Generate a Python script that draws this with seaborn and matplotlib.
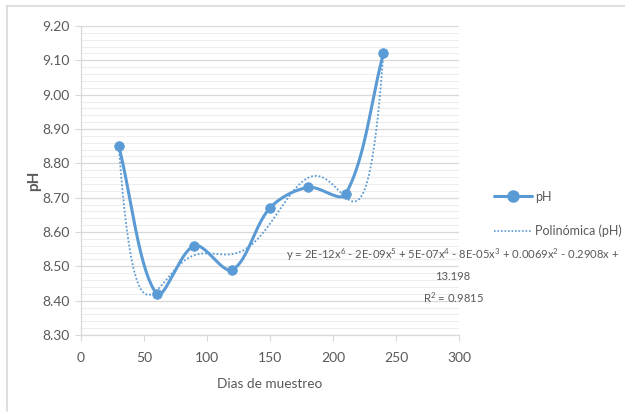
import numpy as np
import pandas as pd
import matplotlib
matplotlib.use("Agg")
import matplotlib.pyplot as plt
from matplotlib.lines import Line2D
import seaborn as sns

# Sampling days and measured pH
dias = [30, 60, 90, 120, 150, 180, 210, 240]
ph = [8.85, 8.42, 8.56, 8.49, 8.67, 8.73, 8.71, 9.12]

x_ticks = [0, 50, 100, 150, 200, 250, 300]
y_ticks = [8.30, 8.40, 8.50, 8.60, 8.70, 8.80, 8.90, 9.00, 9.10, 9.20]

eq_lines = [
    "y = 2E-12x$^6$ - 2E-09x$^5$ + 5E-07x$^4$ - 8E-05x$^3$ + 0.0069x$^2$ - 0.2908x +",
    "13.198",
    "R$^2$ = 0.9815",
]

BLUE = "#5B9BD5"
GRAY_TXT = "#595959"
FONT = "Lato"

sns.set_theme(style="white")
plt.rcParams["font.family"] = [FONT, "DejaVu Sans"]
plt.rcParams["mathtext.fontset"] = "custom"
plt.rcParams["mathtext.rm"] = FONT
plt.rcParams["mathtext.it"] = FONT

df = pd.DataFrame({"dias": dias, "ph": ph})

XMIN, XMAX, YMIN, YMAX = 0, 300, 8.30, 9.20
AX_RECT = [0.1296, 0.1928, 0.6048, 0.7445]
FIG_W, FIG_H = 625, 415


def smooth_curve(xs, ys, n=40):
    """Smoothed line through the points: cubic Bezier segments whose control
    points follow the neighbouring points, worked out in screen units."""
    sx = AX_RECT[2] * FIG_W / (XMAX - XMIN)
    sy = AX_RECT[3] * FIG_H / (YMAX - YMIN)
    P = np.column_stack([np.asarray(xs, float) * sx, np.asarray(ys, float) * sy])
    m = len(P)
    t = np.linspace(0, 1, n)[:, None]
    out = []
    for i in range(m - 1):
        p0 = P[i - 1] if i > 0 else P[i]
        p1, p2 = P[i], P[i + 1]
        p3 = P[i + 2] if i + 2 < m else P[i + 1]
        d01 = np.linalg.norm(p1 - p0)
        d12 = np.linalg.norm(p2 - p1)
        d23 = np.linalg.norm(p3 - p2)
        c1 = p1 + (p2 - p0) * (d12 / (d01 + d12)) / 3
        c2 = p2 - (p3 - p1) * (d12 / (d12 + d23)) / 3
        seg = ((1 - t) ** 3 * p1 + 3 * (1 - t) ** 2 * t * c1
               + 3 * (1 - t) * t ** 2 * c2 + t ** 3 * p2)
        out.append(seg if i == 0 else seg[1:])
    out = np.vstack(out)
    return out[:, 0] / sx, out[:, 1] / sy


fig = plt.figure(figsize=(6.25, 4.15), dpi=100)
ax = fig.add_axes(AX_RECT)

# minor and major gridlines
for v in np.arange(8.30, 9.2001, 0.02):
    ax.axhline(v, color="#EDEDED", lw=0.8, zorder=0)
for v in y_ticks:
    ax.axhline(v, color="#D9D9D9", lw=0.9, zorder=0)

cx, cy = smooth_curve(dias, ph)
ax.plot(cx, cy, color=BLUE, lw=2.2, zorder=3, solid_capstyle="round")
sns.scatterplot(data=df, x="dias", y="ph", ax=ax, color=BLUE, s=48,
                edgecolor=BLUE, zorder=4, legend=False)

# sixth-degree polynomial trendline
coef = np.polyfit(dias, ph, 6)
tx = np.linspace(dias[0], dias[-1], 400)
ax.plot(tx, np.polyval(coef, tx), color=BLUE, lw=1.3, ls=(0, (1, 1.1)), zorder=2)

ax.set_xlim(XMIN, XMAX)
ax.set_ylim(YMIN, YMAX)
ax.set_xticks(x_ticks)
ax.set_yticks(y_ticks)
ax.set_yticklabels([f"{v:.2f}" for v in y_ticks])
ax.tick_params(axis="x", colors=GRAY_TXT, labelsize=10, length=4, width=0.8,
               direction="out", pad=8, bottom=True, color="#D9D9D9")
ax.tick_params(axis="y", colors=GRAY_TXT, labelsize=10, length=4, width=0.8,
               direction="out", pad=4, left=True, color="#D9D9D9")
for s in ["top", "right"]:
    ax.spines[s].set_visible(False)
for s in ["left", "bottom"]:
    ax.spines[s].set_color("#D9D9D9")
    ax.spines[s].set_linewidth(0.9)

ax.set_xlabel("Dias de muestreo", color=GRAY_TXT, fontsize=9.8, labelpad=10)
ax.set_ylabel("pH", color=GRAY_TXT, fontsize=11, fontweight="bold", labelpad=1)

handles = [
    Line2D([0], [0], color=BLUE, lw=2.2, marker="o", markersize=8),
    Line2D([0], [0], color=BLUE, lw=1.2, ls=(0, (1, 1.1))),
]
fig.legend(handles, ["pH", "Polinómica (pH)"], loc="upper left",
           bbox_to_anchor=(0.783, 0.553), frameon=False, fontsize=9,
           labelcolor=GRAY_TXT, handlelength=3.0, labelspacing=1.75,
           handletextpad=0.25, borderaxespad=0)

# trendline equation and R squared
for txt, ypix in zip(eq_lines, [255, 277, 298]):
    fig.text(453 / FIG_W, 1 - ypix / FIG_H, txt, ha="center", va="center",
             color=GRAY_TXT, fontsize=8.1)

# chart frame
fig.add_artist(Line2D([0.01, 1.0], [0.986, 0.986], color="#D9D9D9", lw=1.2))
fig.add_artist(Line2D([0.0105, 0.0105], [0.01, 0.986], color="#D9D9D9", lw=1.2))

fig.savefig("out.png", dpi=100, facecolor="white")
